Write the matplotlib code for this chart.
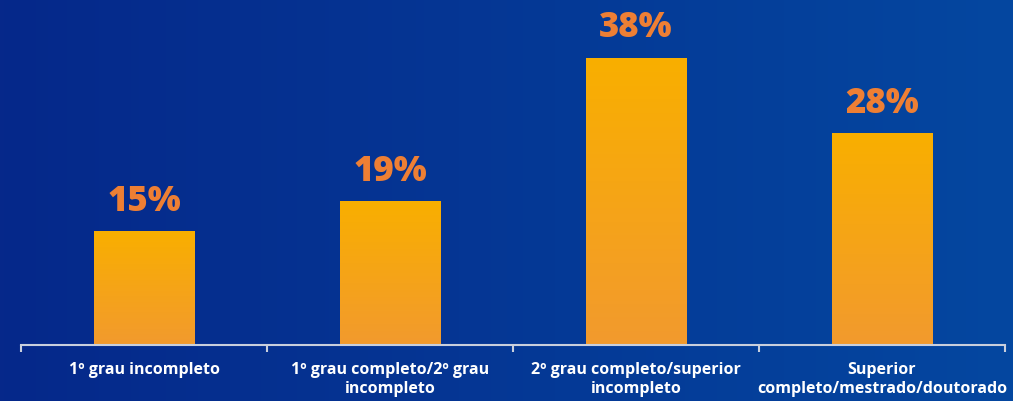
import matplotlib
matplotlib.use("Agg")
import matplotlib.pyplot as plt
import numpy as np
from matplotlib.colors import LinearSegmentedColormap

categories = ["1º grau incompleto",
              "1º grau completo/2º grau\nincompleto",
              "2º grau completo/superior\nincompleto",
              "Superior\ncompleto/mestrado/doutorado"]
values = [15, 19, 38, 28]
labels = ["15%", "19%", "38%", "28%"]

W, H = 1013, 401
fig = plt.figure(figsize=(W / 100, H / 100), dpi=100)

# background gradient
bg = fig.add_axes([0, 0, 1, 1], zorder=0)
bg_cmap = LinearSegmentedColormap.from_list("bg", ["#06288A", "#0447A0"])
grad = np.linspace(0, 1, 256).reshape(1, -1)
bg.imshow(grad, aspect="auto", cmap=bg_cmap, extent=(0, 1, 0, 1))
bg.set_axis_off()

ax = fig.add_axes([21 / W, 56 / H, 984 / W, 345 / H], zorder=1)
ax.patch.set_alpha(0)

bar_cmap = LinearSegmentedColormap.from_list("bar", ["#F29A2E", "#F9AF00"])
bw = 0.41
x = np.arange(len(values))
bars = ax.bar(x, values, width=bw, color="none", edgecolor="none")
vgrad = np.linspace(0, 1, 256).reshape(-1, 1)
for b, v in zip(bars, values):
    x0 = b.get_x()
    ax.imshow(vgrad, aspect="auto", cmap=bar_cmap, origin="lower",
              extent=(x0, x0 + b.get_width(), 0, v), zorder=2)
ax.set_xlim(-0.5, 3.5)
ax.set_ylim(0, 345 / 7.55)

for xi, v, lab in zip(x, values, labels):
    ax.annotate(lab, (xi, v), xytext=(0, 15), textcoords="offset points",
                ha="center", va="baseline", color="#EE7F34",
                fontsize=25, fontweight="heavy", family="Open Sans")

for s in ["top", "left", "right"]:
    ax.spines[s].set_visible(False)
ax.spines["bottom"].set_color("#C9CFDD")
ax.spines["bottom"].set_linewidth(1.5)
ax.set_yticks([])
ax.set_xticks(x)
ax.set_xticklabels(categories, color="white", fontsize=11.5,
                   fontweight="bold", family="Open Sans", linespacing=1.3)
ax.tick_params(axis="x", which="major", length=0, pad=12)
ax.set_xticks(np.arange(-0.5, 4, 1), minor=True)
ax.tick_params(axis="x", which="minor", length=5, width=1.5, color="#C9CFDD")

fig.savefig("out.png", dpi=100)
